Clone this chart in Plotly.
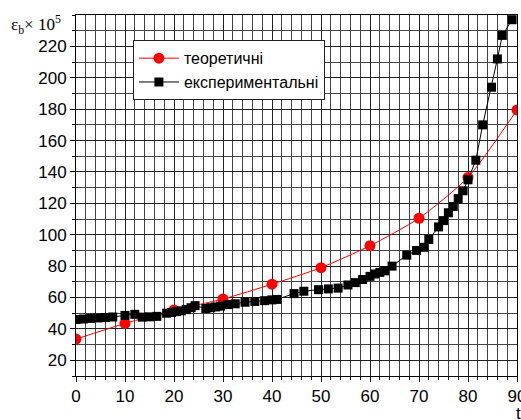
import plotly.graph_objects as go

theor_x = [0, 10, 20, 30, 40, 50, 60, 70, 80, 90]
theor_y = [33.5, 43.5, 52, 59, 68.5, 79, 93, 110.5, 136.5, 179.5]

exp_x = [0, 1.5, 3, 4.5, 6, 7.5, 10, 12, 13.5, 15, 16.5,
         18.5, 19.5, 20.5, 21.5, 22.5, 23.5, 24.3,
         26.5, 27.5, 28.5, 29.5, 31, 32.5, 34.5, 36.5, 38.5, 40, 41,
         44.5, 46.5, 49.5, 51.5, 53.5, 55.5, 57, 58.5, 60, 61, 62, 63,
         64.5, 67.5, 69.5, 71, 72, 74, 75, 76, 77, 78, 79, 80,
         81.6, 83, 84.8, 86, 87, 89]
exp_y = [46, 46.3, 46.7, 47, 47.3, 47.6, 48.6, 49.3, 47.5, 47.7, 48,
         50, 50.5, 51, 51.5, 52.3, 53.5, 54.8,
         53, 53.5, 54, 54.5, 55.5, 56, 57, 57.5, 58, 58.5, 58.8,
         62.5, 64, 65, 65.5, 66, 68, 69.5, 71.5, 73.5, 75, 76, 77,
         80, 87, 90, 92, 97, 105, 109, 114, 118, 123, 128, 135,
         147.5, 170, 194, 212, 227, 237]

series_names = ["теоретичні", "експериментальні"]
x_ticks = [0, 10, 20, 30, 40, 50, 60, 70, 80, 90]
y_ticks = [20, 40, 60, 80, 100, 120, 140, 160, 180, 200, 220]

fig = go.Figure()
fig.add_trace(go.Scatter(
    x=theor_x, y=theor_y, name=series_names[0], mode="lines+markers",
    line=dict(color="#ff0000", width=1, shape="spline", smoothing=0.6),
    marker=dict(symbol="circle", size=11, color="#ff0000"),
))
fig.add_trace(go.Scatter(
    x=exp_x, y=exp_y, name=series_names[1], mode="lines+markers",
    line=dict(color="#000000", width=1),
    marker=dict(symbol="square", size=9, color="#000000"),
))

axis_font = dict(family="Liberation Sans, Arial", size=17, color="#000")

fig.update_layout(
    width=521, height=420,
    margin=dict(l=76, r=4, t=15, b=44),
    paper_bgcolor="white", plot_bgcolor="white",
    font=axis_font,
    legend=dict(
        x=0.129, y=0.93, xanchor="left", yanchor="top",
        bgcolor="white", bordercolor="#222", borderwidth=1,
        font=dict(family="Liberation Sans, Arial", size=16, color="#000"),
        tracegroupgap=0, itemwidth=40,
    ),
    xaxis=dict(
        range=[0, 90], tickmode="array", tickvals=x_ticks,
        ticks="outside", ticklen=5, tickcolor="#000", tickwidth=1,
        showgrid=True, gridcolor="#222", gridwidth=1,
        showline=True, linecolor="#000", linewidth=1, mirror=True,
        zeroline=False, tickfont=axis_font, automargin=False,
        ticklabeloverflow="allow",
        minor=dict(dtick=2, tick0=0, ticks="outside", ticklen=3, tickcolor="#000",
                   showgrid=True, gridcolor="#444", gridwidth=1),
    ),
    yaxis=dict(
        range=[10, 240], tickmode="array", tickvals=y_ticks,
        ticks="outside", ticklen=5, tickcolor="#000", tickwidth=1,
        showgrid=True, gridcolor="#222", gridwidth=1,
        showline=True, linecolor="#000", linewidth=1, mirror=True,
        zeroline=False, tickfont=axis_font, automargin=False,
        ticklabeloverflow="allow",
        minor=dict(dtick=10, tick0=0, ticks="outside", ticklen=3, tickcolor="#000",
                   showgrid=True, gridcolor="#444", gridwidth=1),
    ),
    annotations=[
        dict(text="ε<sub>b</sub>× 10<sup>5</sup>", xref="paper", yref="paper",
             x=-0.152, y=0.975, xanchor="left", yanchor="middle", showarrow=False,
             font=dict(family="Liberation Serif, Times New Roman", size=17, color="#000")),
        dict(text="t", xref="paper", yref="paper",
             x=0.993, y=-0.072, xanchor="left", yanchor="top", showarrow=False,
             font=dict(family="Liberation Sans, Arial", size=17, color="#000")),
    ],
)

fig.write_html("out.html", config={"displayModeBar": False},
               post_script="document.body.style.margin='0';document.body.style.padding='0';")
